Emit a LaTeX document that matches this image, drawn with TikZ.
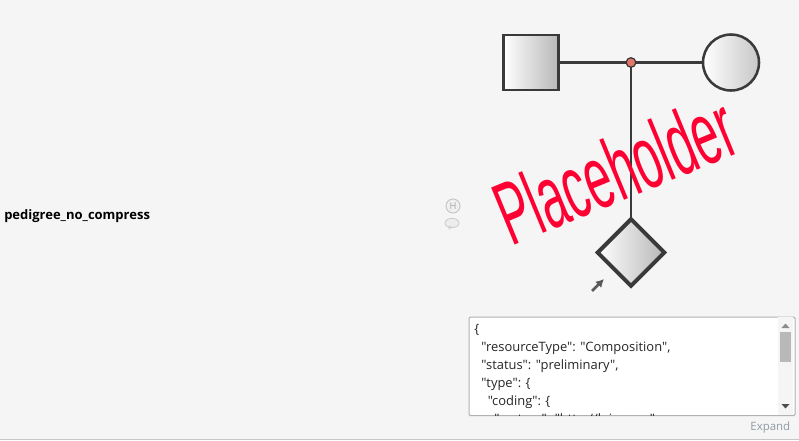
\documentclass[tikz,border=0pt]{standalone}
\usepackage{fontspec}
\setmainfont{Open Sans}
\newfontfamily\codefont{Open Sans}
\newfontfamily\phfont{Liberation Sans}
\usetikzlibrary{shapes.geometric,shadows,arrows.meta}
\definecolor{bgc}{HTML}{F5F5F5}
\definecolor{inkc}{HTML}{3A3A3A}
\definecolor{dotc}{HTML}{E0776A}
\definecolor{phc}{HTML}{FF0033}
\definecolor{expc}{HTML}{8E9BA6}
\tikzset{
 sym/.style={draw=inkc,left color=white,right color=black!28,inner sep=0pt,outer sep=0pt},
 lnk/.style={draw=inkc,line width=1.6pt},
 code/.style={anchor=west,inner sep=0pt,font=\codefont\fontsize{9.7pt}{11pt}\selectfont,text=black!85},
}
\begin{document}
\begin{tikzpicture}[x=0.75pt,y=-0.75pt]
\useasboundingbox (0,0) rectangle (799,440);
\fill[bgc] (0,0) rectangle (799,440);
\draw[black!22,line width=0.75pt] (0,439.5) -- (799,439.5);
% pedigree
\node[sym,rectangle,minimum width=41.5pt,minimum height=41.5pt,line width=1.9pt,drop shadow={shadow xshift=0.6pt,shadow yshift=-0.6pt,opacity=0.25}] (father) at (531,62.5) {};
\node[sym,circle,minimum size=42pt,line width=1.9pt,right color=black!22,drop shadow={shadow xshift=0.6pt,shadow yshift=-0.6pt,opacity=0.2}] (mother) at (731,62.5) {};
\node[sym,diamond,minimum width=50pt,minimum height=50pt,line width=3pt] (child) at (631,252.5) {};
\coordinate (jn) at (631,62.5);
\draw[lnk] (father) -- (mother);
\draw[lnk] (jn) -- (child);
\node[circle,draw=black!80,fill=dotc,line width=0.9pt,minimum size=7.2pt,inner sep=0pt] (dot) at (jn) {};
% placeholder
\node[text=phc,anchor=base west,rotate=22.4,font=\phfont\fontsize{48pt}{48pt}\selectfont,xscale=0.74,yscale=1.4,inner sep=0pt] (ph) at (511.5,247) {Placeholder};
% title
\node[anchor=west,inner sep=0pt,font=\fontsize{9.75pt}{12pt}\selectfont\bfseries,text=black] (title) at (4,216.3) {pedigree\_no\_compress};
% small icons
\node[circle,draw=black!22,fill=black!6,line width=0.75pt,minimum size=10.5pt,inner sep=0pt,text=black!35,font=\fontsize{7pt}{7pt}\selectfont] (hicon) at (453,206) {H};
\node[ellipse,draw=black!20,fill=black!7,line width=0.6pt,minimum width=10.5pt,minimum height=7pt,inner sep=0pt] (bubble) at (452,223) {};
\fill[black!18] (448,226) -- (449,230) -- (452,226.5) -- cycle;
% small arrow
\coordinate (arrA) at (592,291);
\coordinate (arrB) at (604,279);
\draw[-{Latex[length=6pt,width=6.5pt]},black!65,line width=2pt] (arrA) -- (arrB);
% text box
\node[draw=black!30,fill=white,rounded corners=1pt,line width=0.8pt,anchor=north west,minimum width=244.5pt,minimum height=74pt,inner sep=0pt] (box) at (468.5,316.5) {};
\begin{scope}
\clip (469,317) rectangle (777,415);
\node[code] (l1) at (474,329.5) {\{};
\node[code] (l2) at (481,347.8) {"resourceType": "Composition",};
\node[code] (l3) at (481,366.3) {"status": "preliminary",};
\node[code] (l4) at (481,384.3) {"type": \{};
\node[code] (l5) at (487.5,402.3) {"coding": \{};
\node[code] (l6) at (494,420.5) {"system": "http://loinc.org",};
\end{scope}
\fill[black!4] (778,317) rectangle (793,415);
\fill[black!28] (780,332) rectangle (791,362);
\fill[black!45] (781.5,328) -- (789.5,328) -- (785.5,323.5) -- cycle;
\fill[black!70] (781.5,404) -- (789.5,404) -- (785.5,408.5) -- cycle;
\node[anchor=east,inner sep=0pt,text=expc,font=\fontsize{8.6pt}{10pt}\selectfont] (expand) at (790.5,428) {Expand};
\end{tikzpicture}
\end{document}
